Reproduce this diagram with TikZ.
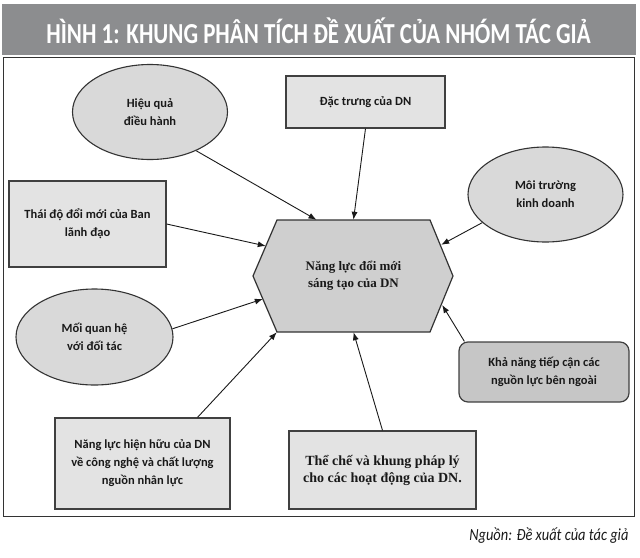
\documentclass[tikz,border=0pt]{standalone}
\usepackage{fontspec}
\setmainfont{Carlito}
\newfontfamily\timesbf{Liberation Serif}
\newfontfamily\titlefont[FakeStretch=0.79]{Carlito}
\newfontfamily\srcfont[FakeStretch=0.85]{Carlito}
\usetikzlibrary{arrows.meta,calc,shapes.geometric}
\definecolor{barcolor}{RGB}{140,141,143}
\definecolor{inkcolor}{RGB}{25,25,25}
\tikzset{
  oval/.style={ellipse, draw=black!80, line width=1.1pt, fill=gray!30,
    minimum width=155pt, minimum height=95pt, inner sep=0pt, align=center,
    text=inkcolor, font=\bfseries\fontsize{12.5}{18}\selectfont},
  box/.style={rectangle, draw=black!75, line width=1.2pt, fill=gray!22,
    inner sep=0pt, align=center, text=inkcolor,
    font=\bfseries\fontsize{12.5}{18}\selectfont},
  rbox/.style={box, rounded corners=9pt, fill=gray!45},
  serifbox/.style={box, font=\timesbf\bfseries\fontsize{14}{17}\selectfont},
  link/.style={draw=inkcolor, line width=0.9pt, -{Latex[length=8pt,width=6pt]}}
}
\begin{document}
\begin{tikzpicture}[x=1pt,y=-1pt]
  \useasboundingbox (0,0) rectangle (640,557);
  % title bar and frame
  \fill[barcolor] (2,4) rectangle (636,55);
  \node[anchor=base, text=white, font=\titlefont\bfseries\fontsize{29}{29}\selectfont]
    (title) at (318.5,43) {HÌNH 1: KHUNG PHÂN TÍCH ĐỀ XUẤT CỦA NHÓM TÁC GIẢ};
  \draw[black!80, line width=0.8pt] (3,57) rectangle (634,516);
  % centre
  \filldraw[draw=black!80, line width=1.2pt, fill=gray!38]
    (277,220) -- (430,220) -- (453,276) -- (430,332) -- (277,332) -- (253,276) -- cycle;
  \node[minimum width=153pt, minimum height=112pt, inner sep=0pt, align=center,
    text=inkcolor, font=\timesbf\bfseries\fontsize{13}{17}\selectfont]
    (hex) at (353.5,276) {Năng lực đổi mới\\sáng tạo của DN};
  % factors
  \node[oval] (hq) at (150,112) {Hiệu quả\\điều hành};
  \node[box, minimum width=159pt, minimum height=52pt] (dac) at (365.5,102) {Đặc trưng của DN};
  \node[oval] (mt) at (545.5,194.5) {Môi trường\\kinh doanh};
  \node[box, minimum width=157pt, minimum height=86pt] (td) at (87.5,224)
    {Thái độ đổi mới của Ban\\lãnh đạo};
  \node[oval, minimum width=157pt, minimum height=96pt] (mq) at (94.5,337)
    {Mối quan hệ\\với đối tác};
  \node[rbox, minimum width=170pt, minimum height=60pt] (kn) at (544,372)
    {Khả năng tiếp cận các\\nguồn lực bên ngoài};
  \node[box, minimum width=175pt, minimum height=91pt] (nl) at (142.5,463.5)
    {Năng lực hiện hữu của DN\\về công nghệ và chất lượng\\nguồn nhân lực};
  \node[serifbox, minimum width=187pt, minimum height=78pt] (tc) at (382.5,470)
    {Thể chế và khung pháp lý\\cho các hoạt động của DN.};
  % ends of the arrows
  \coordinate (t1) at ($(hex.north)+(-37,0)$);
  \coordinate (t3) at ($(hex.north east)+(11,25)$);
  \coordinate (t4) at ($(hex.west)+(-11,-30)$);
  \coordinate (t5) at ($(hex.west)+(-14,23)$);
  \coordinate (t8) at ($(hex.east)+(12,29)$);
  \coordinate (s6) at ($(nl.north)+(55,0)$);
  \coordinate (s8) at ($(kn.north west)+(6,0)$);
  \def \Links{
    hq.320/t1,
    dac.south/hex.north,
    mt.204/t3,
    td.east/t4,
    mq.6/t5,
    s6/hex.south west,
    tc.north/hex.south,
    s8/t8}
  \foreach \a / \b in \Links{
    \path[link] (\a) -- (\b);
  }
  \node[anchor=base east, text=inkcolor, font=\srcfont\itshape\fontsize{17}{17}\selectfont]
    (src) at (632,540) {Nguồn: Đề xuất của tác giả};
\end{tikzpicture}
\end{document}
